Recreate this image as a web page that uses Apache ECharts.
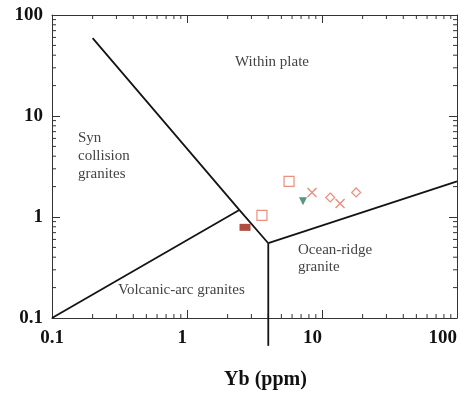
<!DOCTYPE html>
<html>
<head>
<meta charset="utf-8">
<script src="https://cdn.jsdelivr.net/npm/echarts@6/dist/echarts.min.js"></script>
<style>
  html, body { margin: 0; padding: 0; background: #fff; }
  #chart { width: 464px; height: 394px; }
</style>
</head>
<body>
<div id="chart"></div>
<script>
// Ta vs Yb discrimination diagram (log-log)
const xTicks = [0.1, 1, 10, 100];
const yTicks = [0.1, 1, 10, 100];
const minorSteps = [2, 3, 4, 5, 6, 7, 8, 9];
const decades = [0.1, 1, 10];

// field boundaries [Yb, Ta]
const synColBoundary = [[0.2, 59], [2.44, 1.175], [4, 0.55]];
const vagBoundary = [[0.1, 0.1], [2.44, 1.175]];
const orgVertical = [[4, 0.55], [4, 0.053]];
const orgBoundary = [[4, 0.55], [100, 2.25]];

// samples [Yb, Ta]
const filledRect = [[2.69, 0.79]];
const openSquares = [[3.59, 1.04], [5.7, 2.25]];
const downTriangles = [[7.23, 1.43]];
const crosses = [[8.43, 1.75], [13.6, 1.36]];
const diamonds = [[11.5, 1.56], [17.9, 1.75]];

const minorTicks = [];
decades.forEach((d) => minorSteps.forEach((s) => minorTicks.push(+(d * s).toPrecision(3))));

const serif = 'Liberation Serif';
const lineColor = '#141414';
const openColor = '#e3735f';

const chart = echarts.init(document.getElementById('chart'));

const boundary = (data, extra) => Object.assign({
  type: 'line',
  data,
  symbol: 'none',
  silent: true,
  lineStyle: { color: lineColor, width: 1.8 },
  z: 3,
}, extra || {});

const tickSeries = (axis) => ({
  type: 'custom',
  silent: true,
  data: minorTicks.map((v) => [v, v]),
  renderItem: (params, api) => {
    const cs = params.coordSys;
    const p = api.coord([api.value(0), api.value(1)]);
    const len = 4;
    const style = { stroke: '#333', lineWidth: 1 };
    if (axis === 'x') {
      return {
        type: 'group',
        children: [
          { type: 'line', shape: { x1: p[0], y1: cs.y + cs.height, x2: p[0], y2: cs.y + cs.height - len }, style },
          { type: 'line', shape: { x1: p[0], y1: cs.y, x2: p[0], y2: cs.y + len }, style },
        ],
      };
    }
    return {
      type: 'group',
      children: [
        { type: 'line', shape: { x1: cs.x, y1: p[1], x2: cs.x + len, y2: p[1] }, style },
        { type: 'line', shape: { x1: cs.x + cs.width, y1: p[1], x2: cs.x + cs.width - len, y2: p[1] }, style },
      ],
    };
  },
});

const labelStyle = { fontFamily: serif, fontSize: 15, fill: '#444' };

chart.setOption({
  animation: false,
  grid: { left: 52, right: 7, top: 15, bottom: 76, outerBoundsMode: 'none', containLabel: false },
  xAxis: [
    {
      type: 'log',
      logBase: 10,
      min: xTicks[0],
      max: xTicks[xTicks.length - 1],
      name: 'Yb (ppm)',
      nameLocation: 'middle',
      nameGap: 52,
      nameTextStyle: { fontFamily: serif, fontWeight: 'bold', fontSize: 20, color: '#111', padding: [0, 0, 0, 22] },
      axisLine: { lineStyle: { color: '#333', width: 1 } },
      axisTick: { inside: true, length: 8, lineStyle: { color: '#333' } },
      axisLabel: {
        fontFamily: serif, fontWeight: 'bold', fontSize: 19, color: '#111', margin: 11,
        align: 'right', alignMinLabel: 'center', alignMaxLabel: 'right',
      },
      splitLine: { show: false },
    },
    {
      type: 'log',
      logBase: 10,
      position: 'top',
      min: xTicks[0],
      max: xTicks[xTicks.length - 1],
      axisLine: { lineStyle: { color: '#333', width: 1 } },
      axisTick: { inside: true, length: 8, lineStyle: { color: '#333' } },
      axisLabel: { show: false },
      splitLine: { show: false },
    },
  ],
  yAxis: [
    {
      type: 'log',
      logBase: 10,
      min: yTicks[0],
      max: yTicks[yTicks.length - 1],
      axisLine: { lineStyle: { color: '#333', width: 1 } },
      axisTick: { inside: true, length: 8, lineStyle: { color: '#333' } },
      axisLabel: { fontFamily: serif, fontWeight: 'bold', fontSize: 19, color: '#111', margin: 9 },
      splitLine: { show: false },
    },
    {
      type: 'log',
      logBase: 10,
      position: 'right',
      min: yTicks[0],
      max: yTicks[yTicks.length - 1],
      axisLine: { lineStyle: { color: '#333', width: 1 } },
      axisTick: { inside: true, length: 8, lineStyle: { color: '#333' } },
      axisLabel: { show: false },
      splitLine: { show: false },
    },
  ],
  graphic: [
    { type: 'text', left: 235, top: 55, style: Object.assign({ text: 'Within plate' }, labelStyle) },
    { type: 'text', left: 78, top: 129, style: Object.assign({ text: 'Syn\ncollision\ngranites', lineHeight: 18 }, labelStyle) },
    { type: 'text', left: 298, top: 242, style: Object.assign({ text: 'Ocean-ridge\ngranite', lineHeight: 17 }, labelStyle) },
    { type: 'text', left: 118, top: 283, style: Object.assign({ text: 'Volcanic-arc granites' }, labelStyle) },
  ],
  series: [
    tickSeries('x'),
    tickSeries('y'),
    boundary(synColBoundary),
    boundary(vagBoundary),
    boundary(orgVertical, { clip: false }),
    boundary(orgBoundary),
    {
      type: 'scatter', data: filledRect, symbol: 'rect', symbolSize: [11, 7], z: 5,
      itemStyle: { color: '#9a2010' },
    },
    {
      type: 'scatter', data: openSquares, symbol: 'rect', symbolSize: 10, z: 5,
      itemStyle: { color: 'rgba(255,255,255,0)', borderColor: openColor, borderWidth: 1.2 },
    },
    {
      type: 'scatter', data: downTriangles, symbol: 'triangle', symbolRotate: 180, symbolSize: [8, 8], z: 5,
      itemStyle: { color: '#2f7a55' },
    },
    {
      type: 'scatter', data: crosses, symbol: 'path://M0,0L10,10M10,0L0,10', symbolSize: 9, z: 5,
      itemStyle: { color: 'rgba(255,255,255,0)', borderColor: openColor, borderWidth: 1.4 },
    },
    {
      type: 'scatter', data: diamonds, symbol: 'diamond', symbolSize: 9, z: 5,
      itemStyle: { color: 'rgba(255,255,255,0)', borderColor: openColor, borderWidth: 1.2 },
    },
  ],
});
</script>
</body>
</html>
